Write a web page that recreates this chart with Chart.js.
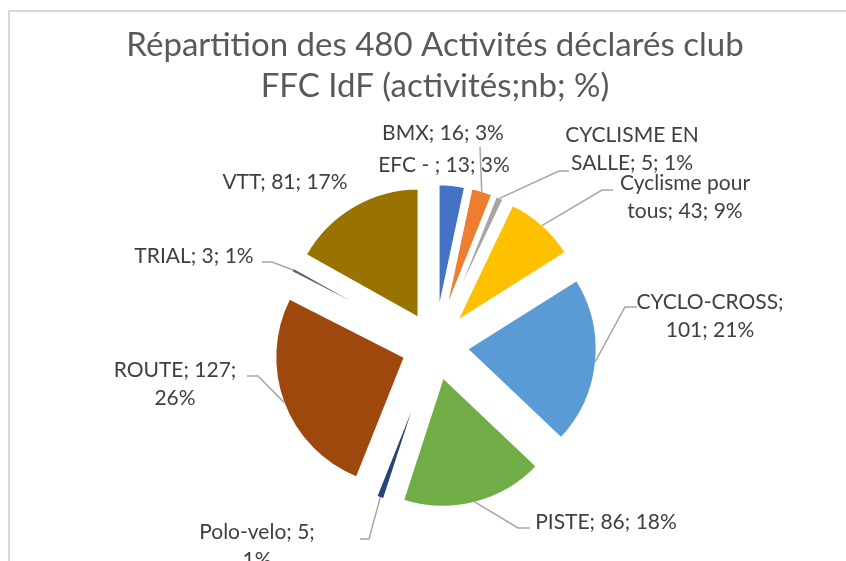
<!DOCTYPE html>
<html lang="fr">
<head>
<meta charset="utf-8">
<title>Répartition des activités FFC IdF</title>
<script src="https://cdn.jsdelivr.net/npm/chart.js"></script>
<style>
  html, body { margin: 0; padding: 0; background: #fff; }
  #wrap { position: relative; width: 846px; height: 561px; }
</style>
</head>
<body>
<div id="wrap"><canvas id="pieChart"></canvas></div>
<script>
// ===== Données =====
const categories = ['BMX', 'EFC - ', 'CYCLISME EN SALLE', 'Cyclisme pour tous', 'CYCLO-CROSS',
                    'PISTE', 'Polo-velo', 'ROUTE', 'TRIAL', 'VTT'];
const counts = [16, 13, 5, 43, 101, 86, 5, 127, 3, 81];
const titleLines = ['Répartition des 480 Activités déclarés club', 'FFC IdF (activités;nb; %)'];

// ===== Style =====
const sliceColors = ['#4472C4', '#ED7D31', '#A5A5A5', '#FFC000', '#5B9BD5',
                     '#70AD47', '#264478', '#9E480E', '#636363', '#997300'];
const FONT = 'Lato';
const LABEL_COLOR = '#404040';
const LEADER_COLOR = '#A6A6A6';
const EXPLODE = 32;   // éclatement des parts (px)

// placement des étiquettes : centre du texte, nb de mots en 1re ligne, ligne de rappel
const labelLayout = [
  { x: 443, y: 133, wrap: 0, leader: null },
  { x: 444, y: 165, wrap: 0, leader: { from: [480, 147], elbow: null } },
  { x: 632, y: 135, wrap: 2, leader: { from: [569, 171], elbow: [559, 171] } },
  { x: 685, y: 183, wrap: 2, leader: { from: [613, 190], elbow: [602, 190] } },
  { x: 710, y: 302, wrap: 1, leader: { from: [637, 307], elbow: [625, 307] } },
  { x: 606, y: 522, wrap: 0, leader: { from: [530, 528], elbow: [518, 528] } },
  { x: 257, y: 532, wrap: 2, leader: { from: [360, 539], elbow: [369, 539] } },
  { x: 175, y: 370, wrap: 2, leader: { from: [247, 376], elbow: [258, 376] } },
  { x: 194, y: 256, wrap: 0, leader: { from: [262, 262], elbow: [272, 262] } },
  { x: 285, y: 182, wrap: 0, leader: null }
];

// cadre gris (haut + gauche)
const framePlugin = {
  id: 'cadre',
  beforeDraw(chart) {
    const ctx = chart.ctx;
    ctx.save();
    ctx.fillStyle = '#D9D9D9';
    ctx.fillRect(8, 10, chart.width - 8, 2);
    ctx.fillRect(8, 10, 2, chart.height - 10);
    ctx.restore();
  }
};

// éclatement : déplace chaque part le long de sa bissectrice
const explodePlugin = {
  id: 'eclatement',
  afterDatasetUpdate(chart, args) {
    args.meta.data.forEach(arc => {
      const mid = (arc.startAngle + arc.endAngle) / 2;
      arc.x += Math.cos(mid) * EXPLODE;
      arc.y += Math.sin(mid) * EXPLODE;
    });
  }
};

// étiquettes « catégorie; nb; % » avec lignes de rappel
const labelPlugin = {
  id: 'etiquettes',
  afterDatasetsDraw(chart) {
    const ctx = chart.ctx;
    const arcs = chart.getDatasetMeta(0).data;
    const total = counts.reduce((a, b) => a + b, 0);
    ctx.save();
    ctx.strokeStyle = LEADER_COLOR;
    ctx.lineWidth = 1.5;
    ctx.fillStyle = LABEL_COLOR;
    ctx.font = '21px ' + FONT;
    ctx.textAlign = 'center';
    ctx.textBaseline = 'middle';
    arcs.forEach((arc, i) => {
      const lay = labelLayout[i];
      if (lay.leader) {
        const mid = (arc.startAngle + arc.endAngle) / 2;
        const ex = arc.x + Math.cos(mid) * (arc.outerRadius - 1);
        const ey = arc.y + Math.sin(mid) * (arc.outerRadius - 1);
        ctx.beginPath();
        ctx.moveTo(lay.leader.from[0], lay.leader.from[1]);
        if (lay.leader.elbow) ctx.lineTo(lay.leader.elbow[0], lay.leader.elbow[1]);
        ctx.lineTo(ex, ey);
        ctx.stroke();
      }
      const pct = Math.round(counts[i] / total * 100);
      const words = (categories[i] + '; ' + counts[i] + '; ' + pct + '%').split(' ');
      const lines = lay.wrap ? [words.slice(0, lay.wrap).join(' '), words.slice(lay.wrap).join(' ')]
                             : [words.join(' ')];
      lines.forEach((txt, k) => ctx.fillText(txt, lay.x, lay.y + k * 28));
    });
    ctx.restore();
  }
};

new Chart(document.getElementById('pieChart'), {
  type: 'pie',
  data: {
    labels: categories,
    datasets: [{
      data: counts,
      backgroundColor: sliceColors,
      borderColor: '#FFFFFF',
      borderWidth: 2.5,
      borderJoinStyle: 'round',
      radius: 130
    }]
  },
  options: {
    responsive: true,
    maintainAspectRatio: false,
    animation: false,
    events: [],
    layout: { padding: { left: 24, right: 0, top: 0, bottom: 0 } },
    plugins: {
      legend: { display: false },
      tooltip: { enabled: false },
      title: {
        display: true,
        text: titleLines,
        color: '#595959',
        font: { family: FONT, size: 33, weight: 'normal', lineHeight: 1.24 },
        padding: { top: 25, bottom: 24 }
      }
    }
  },
  plugins: [framePlugin, explodePlugin, labelPlugin]
});
</script>
</body>
</html>
